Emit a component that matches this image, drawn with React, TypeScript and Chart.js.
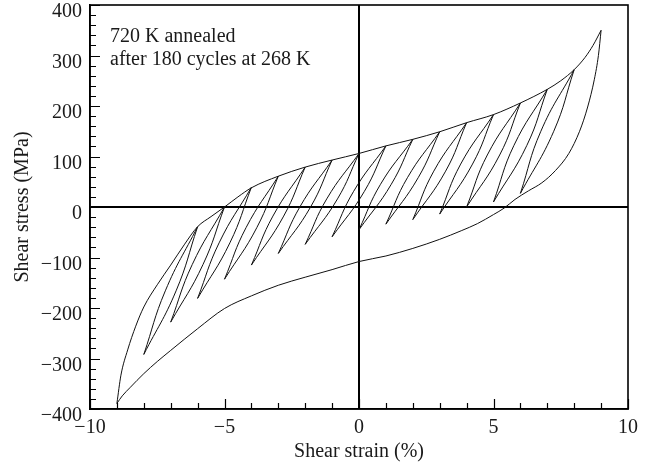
import React, { useEffect, useRef } from "react";
import { Chart, registerables } from "chart.js";

Chart.register(...registerables);

// ---------- axes ----------
const X_MIN = -10;
const X_MAX = 10;
const X_STEP = 5;
const X_MINOR = 1;
const Y_MIN = -400;
const Y_MAX = 400;
const Y_STEP = 100;
const Y_MINOR = 20;

const xTitle = "Shear strain (%)";
const yTitle = "Shear stress (MPa)";
const annotationLines = ["720 K annealed", "after 180 cycles at 268 K"];

// ---------- outer loop: loading envelope (from -9 % up to +9 %) ----------
const envelopeStrain = [-9, -8.85, -8.6, -8.3, -8, -7.5, -7, -6.5, -6, -5.5, -5, -4.5, -4, -3, -2, -1, 0, 1, 2, 3, 4, 5, 6, 7, 7.5, 8, 8.4, 8.7, 9];
const envelopeStress = [-389, -333, -283, -236, -198, -154, -115, -75, -39, -19, 0, 20, 38, 61, 79, 93, 106, 121, 134, 149, 167, 183, 206, 233, 250, 272, 296, 320, 350];

// ---------- outer loop: unloading branch (listed by increasing strain, -9 % ... +9 %) ----------
const unloadStrain = [-9, -8.8, -8.5, -8, -7.5, -7, -6, -5, -4, -3, -2, -1, 0, 1, 2, 3, 3.8, 4.4, 5, 5.4, 5.8, 6.3, 6.8, 7.3, 7.8, 8.2, 8.5, 8.75, 8.9, 9];
const unloadStress = [-389, -374, -357, -330, -306, -284, -241, -201, -176, -155, -139, -124, -108, -97, -82, -64, -47, -33, -15, -2, 15, 32, 48, 72, 106, 150, 198, 253, 300, 350];

// ---------- partial loops (top reversal on envelope, bottom reversal 2 % lower) ----------
const loopTopStrain = [-6, -5, -4, -3, -2, -1, 0, 1, 2, 3, 4, 5, 6, 7, 8];
const loopTopStress = [-39, 0, 39, 61, 79, 93, 106, 121, 134, 149, 167, 183, 206, 233, 272];
const loopBottomStrain = [-8, -7, -6, -5, -4, -3, -2, -1, 0, 1, 2, 3, 4, 5, 6];
const loopBottomStress = [-292, -228, -181, -143, -115, -92, -74, -59, -45, -34, -25, -14, 0, 10, 27];
const reloadMidStrain = [-7.2, -6.2, -5.2, -4.2, -3.2, -2.2, -1.2, -0.2, 0.8, 1.8, 2.78, 3.78, 4.77, 5.76, 6.76];
const reloadMidStress = [-166, -114, -71, -41, -18, 0, 16, 31, 45, 58, 71, 85, 103, 122, 150];
const unloadMidStrain = [-6.8, -5.8, -4.8, -3.8, -2.8, -1.8, -0.8, 0.2, 1.2, 2.2, 3.22, 4.22, 5.23, 6.24, 7.24];
const unloadMidStress = [-166, -114, -71, -41, -18, 0, 16, 31, 45, 58, 71, 85, 103, 122, 150];

const INK = "#111";
const FONT = '"Liberation Serif", "Times New Roman", serif';

const minus = (v: number) => String(v).replace("-", "\u2212");

const framePlugin = {
  id: "frameTicks",
  afterDraw(chart: any) {
    const { ctx, chartArea: a, scales } = chart;
    const xs = scales.x;
    const ys = scales.y;
    ctx.save();
    ctx.strokeStyle = "#000";
    ctx.lineWidth = 1.6;
    ctx.strokeRect(a.left, a.top, a.right - a.left, a.bottom - a.top);
    ctx.lineWidth = 1.2;
    ctx.beginPath();
    for (let v = X_MIN; v <= X_MAX; v += X_MINOR) {
      const px = Math.round(xs.getPixelForValue(v)) + 0.5;
      const len = v % X_STEP === 0 ? 10 : 6;
      ctx.moveTo(px, a.bottom);
      ctx.lineTo(px, a.bottom - len);
    }
    for (let v = Y_MIN; v <= Y_MAX; v += Y_MINOR) {
      const py = Math.round(ys.getPixelForValue(v)) + 0.5;
      const len = v % Y_STEP === 0 ? 10 : 6;
      ctx.moveTo(a.left, py);
      ctx.lineTo(a.left + len, py);
    }
    ctx.stroke();
    ctx.fillStyle = "#1a1a1a";
    ctx.font = `20px ${FONT}`;
    ctx.textBaseline = "alphabetic";
    ctx.textAlign = "left";
    annotationLines.forEach((t, i) => {
      ctx.fillText(t, a.left + 20, a.top + 37 + i * 23);
    });
    ctx.restore();
  },
};

export default function App() {
  const ref = useRef<HTMLCanvasElement>(null);

  useEffect(() => {
    document.body.style.margin = "0";
    const base = {
      borderColor: INK,
      borderWidth: 1,
      pointRadius: 0,
      showLine: true,
      fill: false,
    };
    const datasets: any[] = [];
    datasets.push({
      ...base,
      label: "Loading envelope",
      cubicInterpolationMode: "monotone",
      data: envelopeStrain.map((x, i) => ({ x, y: envelopeStress[i] })),
    });
    datasets.push({
      ...base,
      label: "Unloading",
      cubicInterpolationMode: "monotone",
      data: unloadStrain.map((x, i) => ({ x, y: unloadStress[i] })),
    });
    loopTopStrain.forEach((_, i) => {
      datasets.push({
        ...base,
        label: `Reload ${i}`,
        tension: 0.45,
        data: [
          { x: loopBottomStrain[i], y: loopBottomStress[i] },
          { x: reloadMidStrain[i], y: reloadMidStress[i] },
          { x: loopTopStrain[i], y: loopTopStress[i] },
        ],
      });
      datasets.push({
        ...base,
        label: `Unload ${i}`,
        tension: 0.45,
        data: [
          { x: loopTopStrain[i], y: loopTopStress[i] },
          { x: unloadMidStrain[i], y: unloadMidStress[i] },
          { x: loopBottomStrain[i], y: loopBottomStress[i] },
        ],
      });
    });

    const chart = new Chart(ref.current as HTMLCanvasElement, {
      type: "scatter",
      data: { datasets },
      plugins: [framePlugin],
      options: {
        animation: false,
        responsive: false,
        devicePixelRatio: 1,
        layout: { padding: { top: 5, right: 18, left: 0, bottom: 0 } },
        plugins: { legend: { display: false }, tooltip: { enabled: false } },
        scales: {
          x: {
            type: "linear",
            min: X_MIN,
            max: X_MAX,
            ticks: {
              stepSize: X_STEP,
              color: "#1a1a1a",
              font: { family: FONT, size: 20 },
              padding: 7,
              maxRotation: 0,
              callback: (v: any) => minus(v),
            },
            grid: {
              drawTicks: false,
              color: (c: any) => (c.tick && c.tick.value === 0 ? "#000" : "rgba(0,0,0,0)"),
              lineWidth: 2,
            },
            border: { display: true, color: "#000", width: 1.6 },
            title: {
              display: true,
              text: xTitle,
              color: "#1a1a1a",
              font: { family: FONT, size: 20 },
              padding: { top: 0, bottom: 5 },
            },
            afterFit: (s: any) => {
              s.height = 60;
              s.paddingLeft = 0;
              s.paddingRight = 0;
            },
          },
          y: {
            type: "linear",
            min: Y_MIN,
            max: Y_MAX,
            ticks: {
              stepSize: Y_STEP,
              color: "#1a1a1a",
              font: { family: FONT, size: 20 },
              padding: 8,
              labelOffset: 7,
              callback: (v: any) => minus(v),
            },
            grid: {
              drawTicks: false,
              color: (c: any) => (c.tick && c.tick.value === 0 ? "#000" : "rgba(0,0,0,0)"),
              lineWidth: 2,
            },
            border: { display: true, color: "#000", width: 1.6 },
            title: {
              display: true,
              text: yTitle,
              color: "#1a1a1a",
              font: { family: FONT, size: 20 },
              padding: { top: 11, bottom: 0 },
            },
            afterFit: (s: any) => {
              s.width = 90;
              s.paddingTop = 0;
              s.paddingBottom = 0;
            },
          },
        },
      },
    } as any);
    return () => chart.destroy();
  }, []);

  return (
    <canvas
      ref={ref}
      width={646}
      height={469}
      style={{ display: "block", width: 646, height: 469 }}
    />
  );
}
